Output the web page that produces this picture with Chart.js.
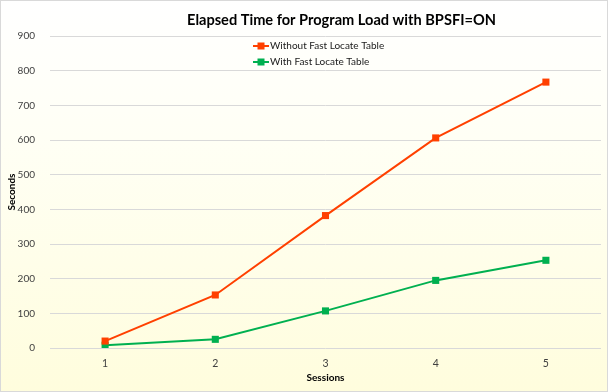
<!DOCTYPE html>
<html>
<head>
<meta charset="utf-8">
<script src="https://cdn.jsdelivr.net/npm/chart.js@4"></script>
<style>
  html, body { margin: 0; padding: 0; background: #fff; }
  #wrap { width: 608px; height: 392px; }
</style>
</head>
<body>
<div id="wrap"><canvas id="loadChart" width="608" height="392"></canvas></div>
<script>
const sessions = ['1', '2', '3', '4', '5'];
const withoutFlt = [20, 153, 382, 606, 767];
const withFlt = [8, 25, 107, 195, 253];
const seriesNames = ['Without Fast Locate Table', 'With Fast Locate Table'];
const chartTitle = 'Elapsed Time for Program Load with BPSFI=ON';

const FONT = 'Lato, "Open Sans", sans-serif';
const RED = '#ff4000';
const GREEN = '#00b050';

// background gradient + border
const bgPlugin = {
    id: 'bgFill',
    beforeDraw: (chart) => {
        const { ctx, width, height } = chart;
        ctx.save();
        const g = ctx.createLinearGradient(0, 0, 0, height);
        g.addColorStop(0, '#ffffff');
        g.addColorStop(0.35, '#fffff5');
        g.addColorStop(1, '#fffddd');
        ctx.fillStyle = g;
        ctx.fillRect(0, 0, width, height);
        ctx.strokeStyle = '#d9d9d9';
        ctx.lineWidth = 1;
        ctx.strokeRect(0.5, 0.5, width - 1, height - 1);
        ctx.restore();
    }
};

// title and in-plot legend
const labelPlugin = {
    id: 'titleLegend',
    afterDraw: (chart) => {
        const { ctx } = chart;
        ctx.save();
        ctx.fillStyle = '#000';
        ctx.font = 'bold 14.6px ' + FONT;
        ctx.textAlign = 'center';
        ctx.textBaseline = 'middle';
        ctx.fillText(chartTitle, 341.5, 20.5);

        const colors = [RED, GREEN];
        const ys = [46, 62];
        ctx.font = '10px ' + FONT;
        ctx.textAlign = 'left';
        seriesNames.forEach((name, i) => {
            const y = ys[i];
            ctx.strokeStyle = colors[i];
            ctx.lineWidth = 2;
            ctx.beginPath();
            ctx.moveTo(253, y);
            ctx.lineTo(269, y);
            ctx.stroke();
            ctx.fillStyle = colors[i];
            ctx.fillRect(257.5, y - 3.5, 7, 7);
            ctx.fillStyle = '#1a1a1a';
            ctx.fillText(name, 270, y);
        });
        ctx.restore();
    }
};

const config = {
    type: 'line',
    data: {
        labels: sessions,
        datasets: [{
            label: seriesNames[0],
            data: withoutFlt,
            borderColor: RED,
            backgroundColor: RED,
            borderWidth: 2,
            pointStyle: 'rect',
            pointRadius: 5,
            pointHoverRadius: 5,
            pointBorderWidth: 0
        }, {
            label: seriesNames[1],
            data: withFlt,
            borderColor: GREEN,
            backgroundColor: GREEN,
            borderWidth: 2,
            pointStyle: 'rect',
            pointRadius: 5,
            pointHoverRadius: 5,
            pointBorderWidth: 0
        }]
    },
    options: {
        responsive: false,
        animation: false,
        layout: { padding: { top: 36, right: 7, bottom: 0, left: 0 } },
        plugins: {
            legend: { display: false },
            title: { display: false },
            tooltip: { enabled: false }
        },
        scales: {
            x: {
                offset: true,
                grid: { display: false, drawTicks: false },
                border: { display: false },
                ticks: { color: '#404040', font: { family: FONT, size: 10.5 }, padding: 9 },
                title: {
                    display: true, text: 'Sessions', color: '#000',
                    font: { family: FONT, size: 10, weight: 'bold' },
                    padding: { top: 0, bottom: 8 }
                },
                afterFit: (scale) => { scale.height = 44; }
            },
            y: {
                min: 0,
                max: 900,
                ticks: { stepSize: 100, color: '#404040', font: { family: FONT, size: 10 }, padding: 15 },
                grid: { color: '#d9d9d9', lineWidth: 1, drawTicks: false },
                border: { display: false },
                title: {
                    display: true, text: 'Seconds', color: '#000',
                    font: { family: FONT, size: 10, weight: 'bold' },
                    padding: { top: 6, bottom: 0 }
                },
                afterFit: (scale) => { scale.width = 50; }
            }
        }
    },
    plugins: [bgPlugin, labelPlugin]
};

const ctx = document.getElementById('loadChart').getContext('2d');
const loadChart = new Chart(ctx, config);
</script>
</body>
</html>
